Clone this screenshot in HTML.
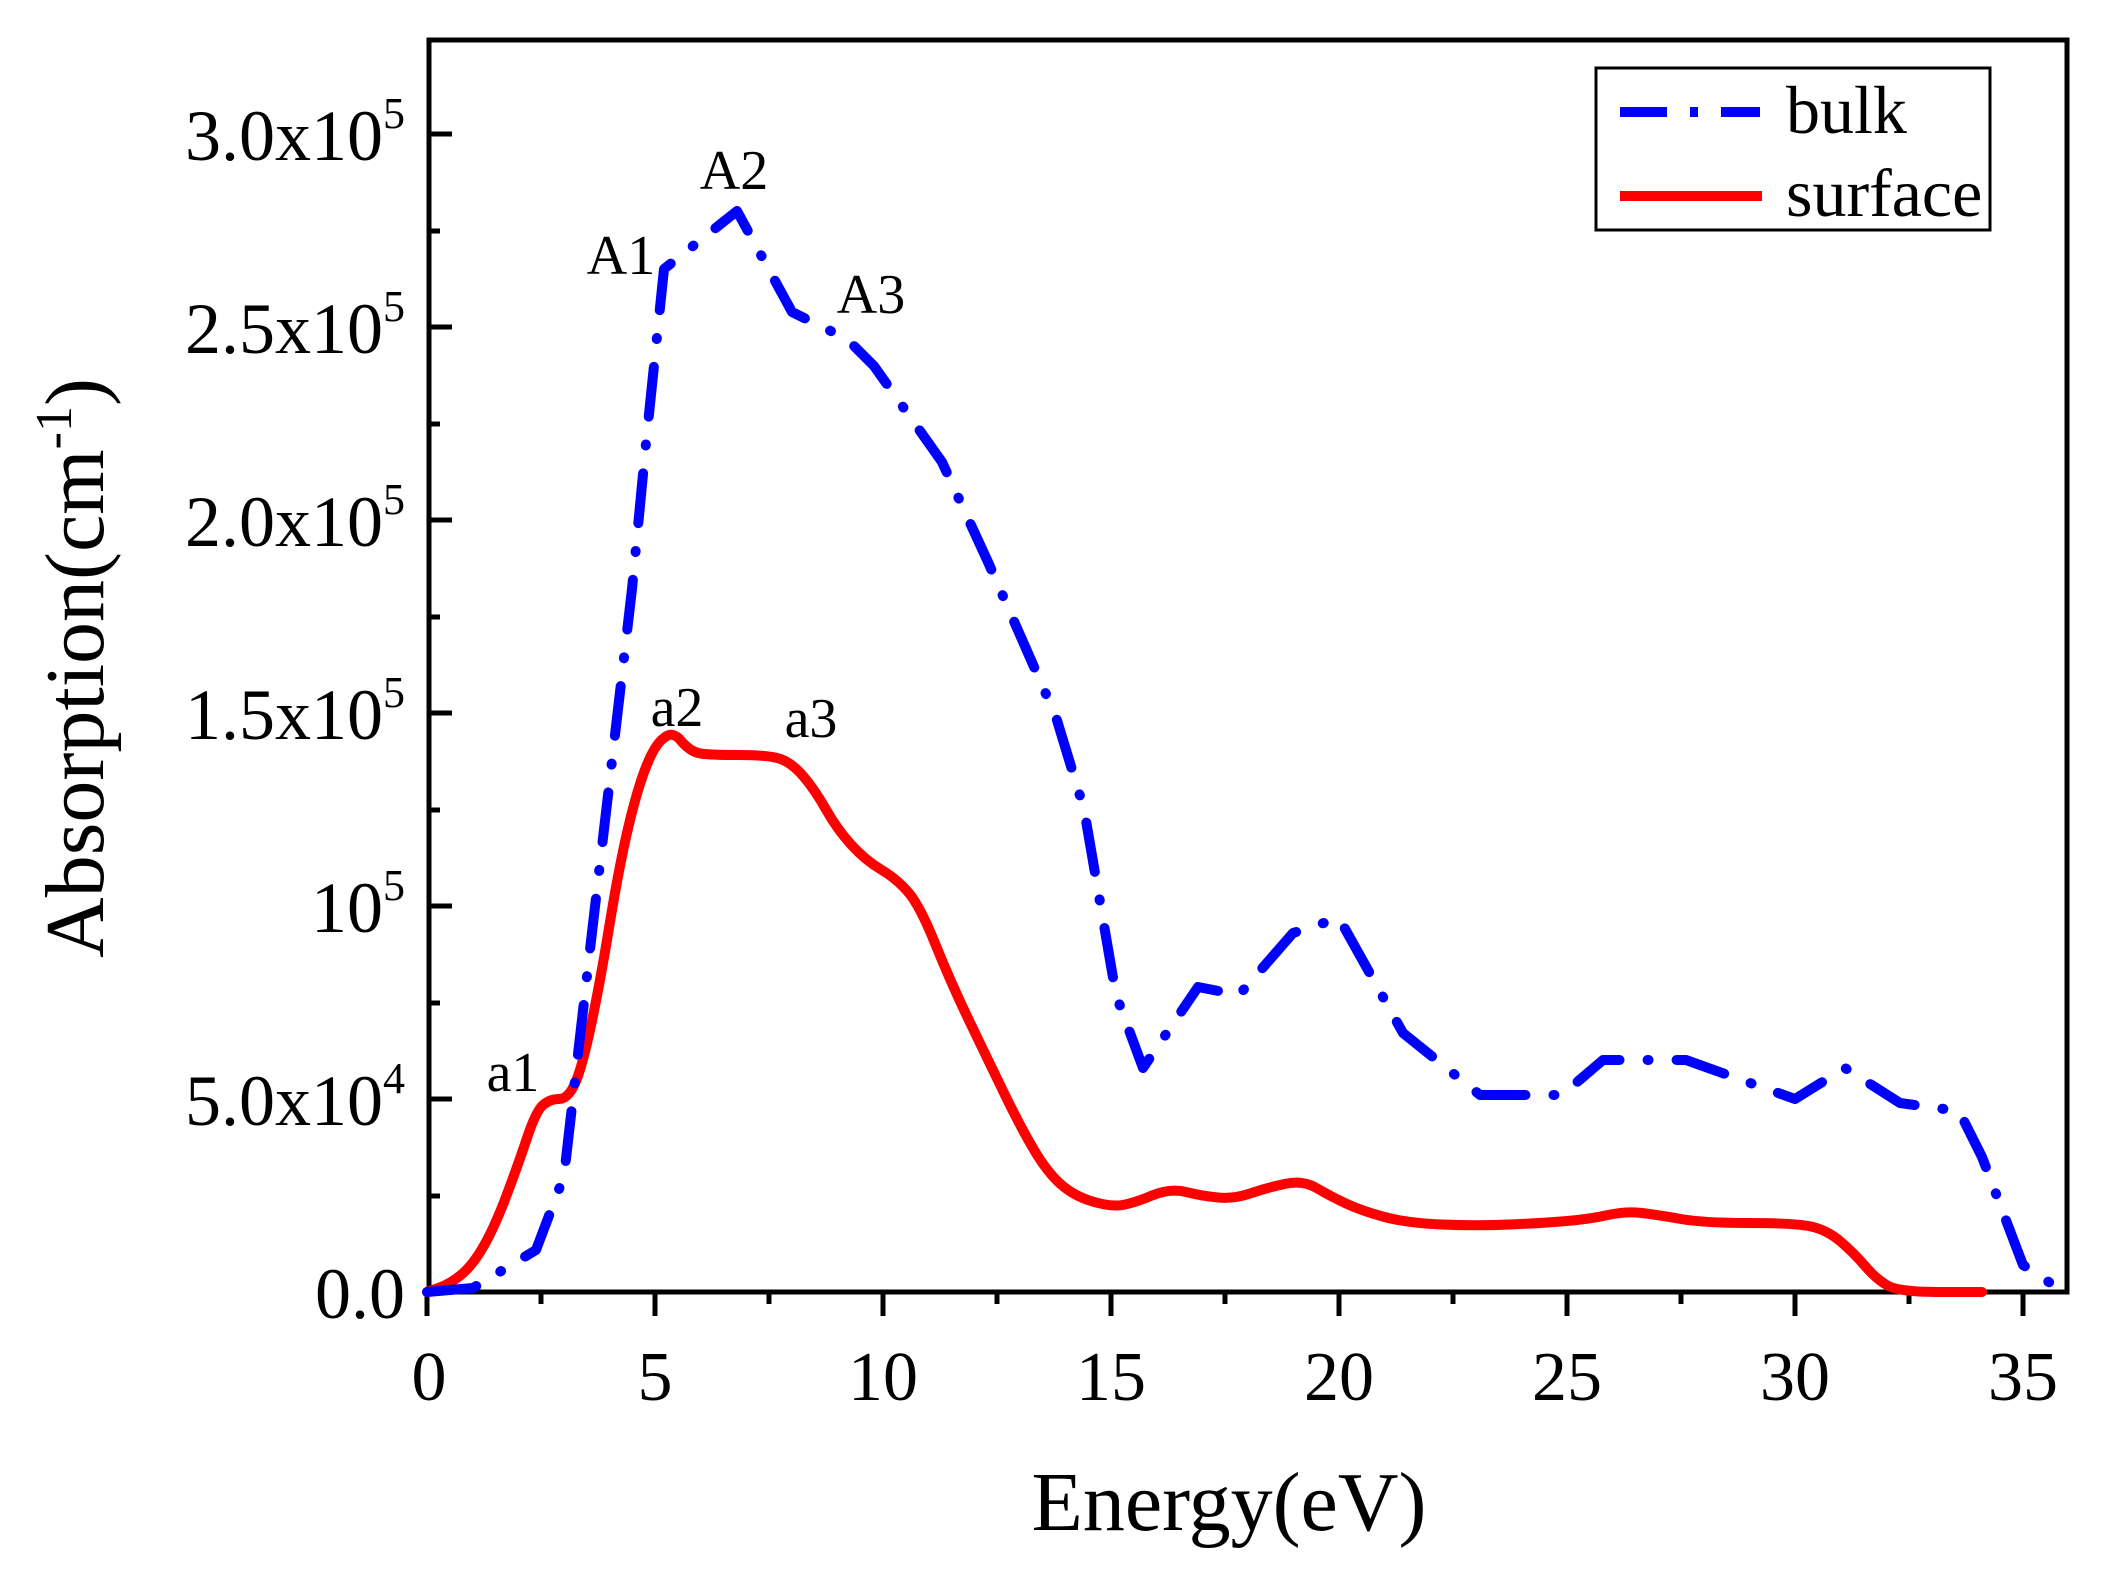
<!DOCTYPE html>
<html><head><meta charset="utf-8"><style>
html,body{margin:0;padding:0;background:#fff;}
svg{display:block;}
text{font-family:"Liberation Serif",serif;fill:#000;}
</style></head><body>
<svg width="2106" height="1575" viewBox="0 0 2106 1575" xmlns="http://www.w3.org/2000/svg">
<rect x="0" y="0" width="2106" height="1575" fill="#fff"/>
<rect x="429" y="40" width="1638" height="1252" fill="none" stroke="#000" stroke-width="5"/>
<g stroke="#000" stroke-width="5">
<line x1="427" y1="1292" x2="427" y2="1316"/>
<line x1="655" y1="1292" x2="655" y2="1316"/>
<line x1="883" y1="1292" x2="883" y2="1316"/>
<line x1="1111" y1="1292" x2="1111" y2="1316"/>
<line x1="1339" y1="1292" x2="1339" y2="1316"/>
<line x1="1567" y1="1292" x2="1567" y2="1316"/>
<line x1="1795" y1="1292" x2="1795" y2="1316"/>
<line x1="2023" y1="1292" x2="2023" y2="1316"/>
<line x1="541" y1="1292" x2="541" y2="1304"/>
<line x1="769" y1="1292" x2="769" y2="1304"/>
<line x1="997" y1="1292" x2="997" y2="1304"/>
<line x1="1225" y1="1292" x2="1225" y2="1304"/>
<line x1="1453" y1="1292" x2="1453" y2="1304"/>
<line x1="1681" y1="1292" x2="1681" y2="1304"/>
<line x1="1909" y1="1292" x2="1909" y2="1304"/>
<line x1="427" y1="1099" x2="452" y2="1099"/>
<line x1="427" y1="906" x2="452" y2="906"/>
<line x1="427" y1="713" x2="452" y2="713"/>
<line x1="427" y1="520" x2="452" y2="520"/>
<line x1="427" y1="327" x2="452" y2="327"/>
<line x1="427" y1="134" x2="452" y2="134"/>
<line x1="427" y1="1196" x2="440" y2="1196"/>
<line x1="427" y1="1003" x2="440" y2="1003"/>
<line x1="427" y1="810" x2="440" y2="810"/>
<line x1="427" y1="617" x2="440" y2="617"/>
<line x1="427" y1="424" x2="440" y2="424"/>
<line x1="427" y1="231" x2="440" y2="231"/>
</g>
<g font-size="70" text-anchor="middle">
<text x="429" y="1400">0</text>
<text x="655" y="1400">5</text>
<text x="883" y="1400">10</text>
<text x="1111" y="1400">15</text>
<text x="1339" y="1400">20</text>
<text x="1567" y="1400">25</text>
<text x="1795" y="1400">30</text>
<text x="2023" y="1400">35</text>
</g>
<g font-size="72" text-anchor="end">
<text x="405" y="1318">0.0</text>
<text x="405" y="1125">5.0x10<tspan font-size="44" dy="-32">4</tspan></text>
<text x="405" y="932">10<tspan font-size="44" dy="-32">5</tspan></text>
<text x="405" y="739">1.5x10<tspan font-size="44" dy="-32">5</tspan></text>
<text x="405" y="546">2.0x10<tspan font-size="44" dy="-32">5</tspan></text>
<text x="405" y="353">2.5x10<tspan font-size="44" dy="-32">5</tspan></text>
<text x="405" y="160">3.0x10<tspan font-size="44" dy="-32">5</tspan></text>
</g>
<text x="1229" y="1530" font-size="84" text-anchor="middle">Energy(eV)</text>
<text transform="translate(103,668) rotate(-90)" font-size="84" text-anchor="middle">Absorption(cm<tspan font-size="52" dy="-32">-1</tspan><tspan dy="32">)</tspan></text>
<path fill="none" stroke="#ff0000" stroke-width="10" stroke-linejoin="round" stroke-linecap="round"
d="M427,1292 L438.5,1288 Q450,1284 461.5,1274.5 Q473,1265 484,1245.5 Q495,1226 506.5,1195.5 Q518,1165 527,1138 Q536,1111 543,1105 Q550,1099 559,1099 Q568,1099 575,1083.5 Q582,1068 591,1025.5 Q600,983 609.5,925 Q619,867 628,828.5 Q637,790 646,767 Q655,744 664,738 Q673,730 682,742 Q691,752 700.5,753.5 Q710,755 739.5,755 Q769,755 780.5,759 Q792,763 803.5,776.5 Q815,790 826,809.5 Q837,829 851,844.5 Q865,860 881,869.5 Q897,879 908.5,892.5 Q920,906 935.5,944.5 Q951,983 969.5,1021.5 Q988,1060 1004,1093 Q1020,1126 1033.5,1149 Q1047,1172 1060.5,1184 Q1074,1196 1092.5,1201.5 Q1111,1207 1122.5,1205 Q1134,1203 1152,1195.5 Q1170,1188 1186,1192 Q1202,1196 1218,1197.5 Q1234,1199 1250,1193.5 Q1266,1188 1284.5,1184 Q1303,1180 1316.5,1188 Q1330,1196 1346,1203.5 Q1362,1211 1384.5,1217 Q1407,1223 1441.5,1224.5 Q1476,1226 1510,1224.5 Q1544,1223 1567,1221 Q1590,1219 1608,1215 Q1626,1211 1642,1213 Q1658,1215 1681,1219 Q1704,1223 1749.5,1223 Q1795,1223 1811,1226.5 Q1827,1230 1840.5,1241.5 Q1854,1253 1865.5,1266.5 Q1877,1280 1888.5,1286 Q1900,1292 1941,1292 L1982,1292"/>
<polyline fill="none" stroke="#0000ff" stroke-width="10" stroke-linejoin="round" stroke-linecap="round" stroke-dasharray="50 28 1 28"
points="427,1292 473,1288 536,1250 564,1176 591,941 632,589 646,443 664,269 737,211 792,312 847,339 874,366 942,462 988,562 1056,717 1084,809 1116,995 1143,1068 1198,987 1239,995 1293,933 1339,918 1403,1033 1480,1095 1562,1095 1603,1060 1686,1060 1795,1099 1845,1068 1900,1103 1959,1111 1982,1157 2023,1265 2064,1292"/>
<g font-size="56" text-anchor="middle">
<text x="621" y="274">A1</text>
<text x="734" y="189">A2</text>
<text x="871" y="313">A3</text>
<text x="513" y="1091">a1</text>
<text x="677" y="726">a2</text>
<text x="811" y="737">a3</text>
</g>
<rect x="1596" y="68" width="394" height="162" fill="#fff" stroke="#000" stroke-width="3"/>
<line x1="1620" y1="112" x2="1667" y2="112" stroke="#0000ff" stroke-width="10"/>
<line x1="1690" y1="112" x2="1698" y2="112" stroke="#0000ff" stroke-width="10"/>
<line x1="1721" y1="112" x2="1760" y2="112" stroke="#0000ff" stroke-width="10"/>
<line x1="1620" y1="196" x2="1762" y2="196" stroke="#ff0000" stroke-width="10"/>
<text x="1786" y="133" font-size="68">bulk</text>
<text x="1786" y="216" font-size="68">surface</text>
</svg>
</body></html>
